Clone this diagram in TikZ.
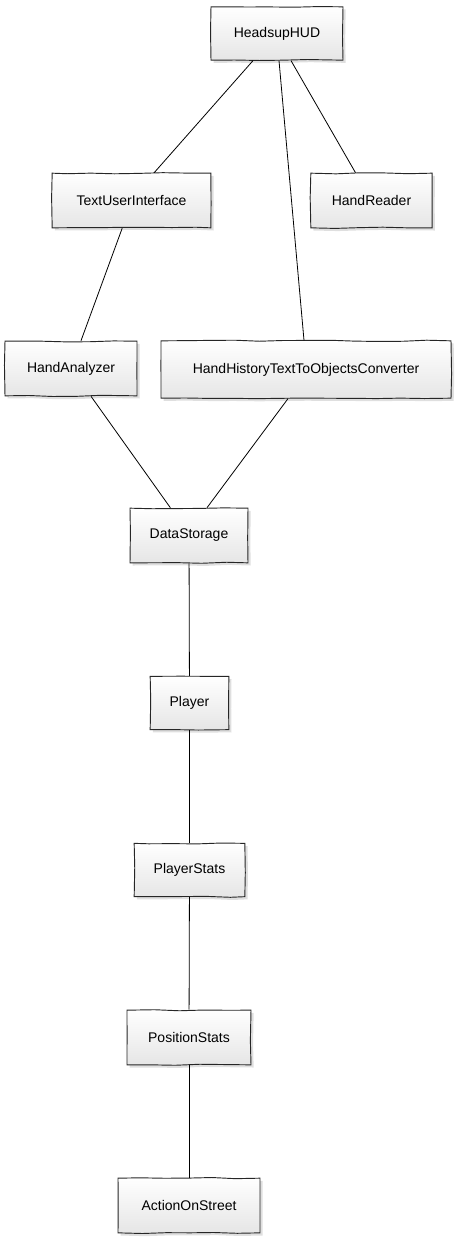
\documentclass[tikz,border=0pt]{standalone}
\usepackage{fontspec}
\setmainfont{Liberation Sans}
\usetikzlibrary{shadows,decorations.pathmorphing}

\tikzset{
  cls/.style={draw=black!85, line width=0.7pt, top color=white, bottom color=black!10,
    minimum height=41pt, inner sep=2pt, font=\fontsize{10.5pt}{12pt}\selectfont,
    decorate, decoration={random steps, segment length=18pt, amplitude=0.5pt},
    drop shadow={opacity=0.25, shadow xshift=2pt, shadow yshift=-2pt}},
  link/.style={draw=black, line width=0.6pt}
}

\begin{document}
\pgfmathsetseed{7}
\begin{tikzpicture}[x=0.75pt,y=-0.75pt]
\useasboundingbox (0,0) rectangle (456,1238);

% top
\node[cls, minimum width=99pt, minimum height=40pt] (hud) at (277,33.5) {HeadsupHUD};

\node[cls, minimum width=119pt] (tui) at (131.5,200.5) {TextUserInterface};
\node[cls, minimum width=91pt] (reader) at (371.5,200.5) {HandReader};

\node[cls, minimum width=99pt] (analyzer) at (71,368.5) {HandAnalyzer};
\node[cls, minimum width=217.5pt, minimum height=43pt] (converter) at (306,369.5) {HandHistoryTextToObjectsConverter};

% storage chain
\node[cls, minimum width=88.5pt] (storage) at (189,535.5) {DataStorage};
\node[cls, minimum width=59pt, minimum height=40pt] (player) at (189.5,703) {Player};
\node[cls, minimum width=83pt, minimum height=40pt] (pstats) at (189.5,870) {PlayerStats};
\node[cls, minimum width=93pt] (posstats) at (189,1037.5) {PositionStats};
\node[cls, minimum width=106.5pt] (action) at (189,1205.5) {ActionOnStreet};

\draw[link] ([xshift=-18pt]hud.south) -- ([xshift=17pt]tui.north);
\draw[link] ([xshift=1.5pt]hud.south) -- ([xshift=-1.5pt]converter.north);
\draw[link] ([xshift=10.5pt]hud.south) -- ([xshift=-12pt]reader.north);
\draw[link] ([xshift=-7pt]tui.south) -- ([xshift=7.5pt]analyzer.north);
\draw[link] ([xshift=15pt]analyzer.south) -- ([xshift=-14pt]storage.north);
\draw[link] ([xshift=-13.5pt]converter.south) -- ([xshift=13.5pt]storage.north);

\draw[link] (storage) -- (player);
\draw[link] (player) -- (pstats);
\draw[link] (pstats) -- (posstats);
\draw[link] (posstats) -- (action);

\end{tikzpicture}
\end{document}
